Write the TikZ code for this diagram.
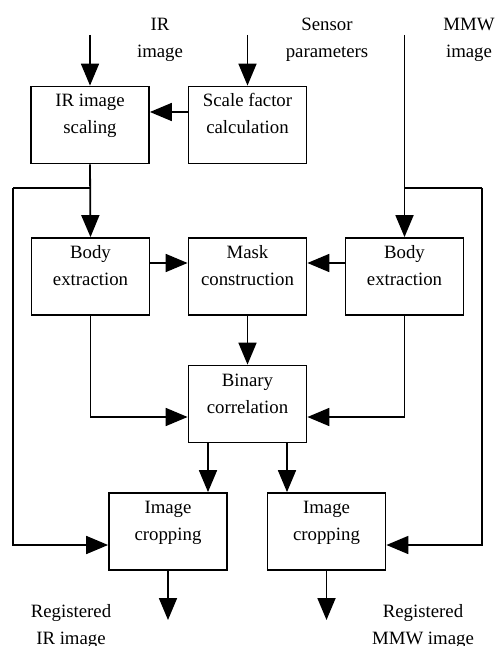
\documentclass[tikz,border=0pt]{standalone}
\usepackage{fontspec}
\setmainfont{Liberation Serif}
\usepackage{tikz}
\usetikzlibrary{arrows.meta,calc}

\begin{document}
\begin{tikzpicture}[
  x=0.5pt, y=-0.5pt,
  b/.style={draw, line width=0.9pt, align=center, inner sep=0pt, font=\fontsize{9.4}{13.5}\selectfont, text height=20.5pt, text depth=11.5pt, minimum width=59pt, minimum height=38.5pt},
  lbl/.style={align=center, font=\fontsize{9.4}{13.5}\selectfont},
  arr/.style={-{Triangle[length=11pt, width=9pt]}, line width=0.9pt},
  ln/.style={line width=0.9pt}
]
  \useasboundingbox (0,0) rectangle (499,646);

  \node[b] (scl) at (90,125) {IR image\\ scaling};
  \node[b] (sfc) at (247.5,125) {Scale factor\\ calculation};
  \node[b] (bodyL) at (90.5,276.5) {Body\\ extraction};
  \node[b] (mask) at (247.5,276.5) {Mask\\ construction};
  \node[b] (bodyR) at (404.5,276.5) {Body\\ extraction};
  \node[b] (bin) at (247.5,404) {Binary\\ correlation};
  \node[b] (cropL) at (168,531.5) {Image\\ cropping};
  \node[b] (cropR) at (326.5,531.5) {Image\\ cropping};

  \node[lbl] (irin) at (160,40) {IR\\ image};
  \node[lbl] (sensin) at (327,40) {Sensor\\ parameters};
  \node[lbl] (mmwin) at (469,40) {MMW\\ image};
  \node[lbl] (irout) at (71,626) {Registered\\ IR image};
  \node[lbl] (mmwout) at (423,626) {Registered\\ MMW image};

  \coordinate (irtop) at (90,35);
  \coordinate (senstop) at (247.5,35);
  \coordinate (mmwtop) at (404.5,35);
  \coordinate (splitL) at (90,188);
  \coordinate (splitR) at (404.5,188);
  \coordinate (railL) at (13,188);
  \coordinate (railR) at (482,188);
  \coordinate (rowA) at (0,112);
  \coordinate (rowB) at (0,263);
  \coordinate (rowC) at (0,417);
  \coordinate (rowD) at (0,545);
  \coordinate (colA) at (208,0);
  \coordinate (colB) at (287,0);
  \coordinate (endL) at (168,620);
  \coordinate (endR) at (326.5,620);

  \draw[arr] (irtop) -- (scl.north);
  \draw[arr] (senstop) -- (sfc.north);
  \draw[arr] (sfc.west |- rowA) -- (scl.east |- rowA);
  \draw[arr] (scl.south) -- (bodyL.north);
  \draw[arr] (mmwtop) -- (bodyR.north);
  \draw[arr] (bodyL.east |- rowB) -- (mask.west |- rowB);
  \draw[arr] (bodyR.west |- rowB) -- (mask.east |- rowB);
  \draw[arr] (mask.south) -- (bin.north);
  \draw[arr] (bodyL.south) |- (bin.west |- rowC);
  \draw[arr] (bodyR.south) |- (bin.east |- rowC);
  \draw[arr] (colA |- bin.south) -- (colA |- cropL.north);
  \draw[arr] (colB |- bin.south) -- (colB |- cropR.north);
  \draw[ln] (splitL) -- (railL);
  \draw[arr] (railL) |- (cropL.west |- rowD);
  \draw[ln] (splitR) -- (railR);
  \draw[arr] (railR) |- (cropR.east |- rowD);
  \draw[arr] (cropL.south) -- (endL);
  \draw[arr] (cropR.south) -- (endR);
\end{tikzpicture}
\end{document}
